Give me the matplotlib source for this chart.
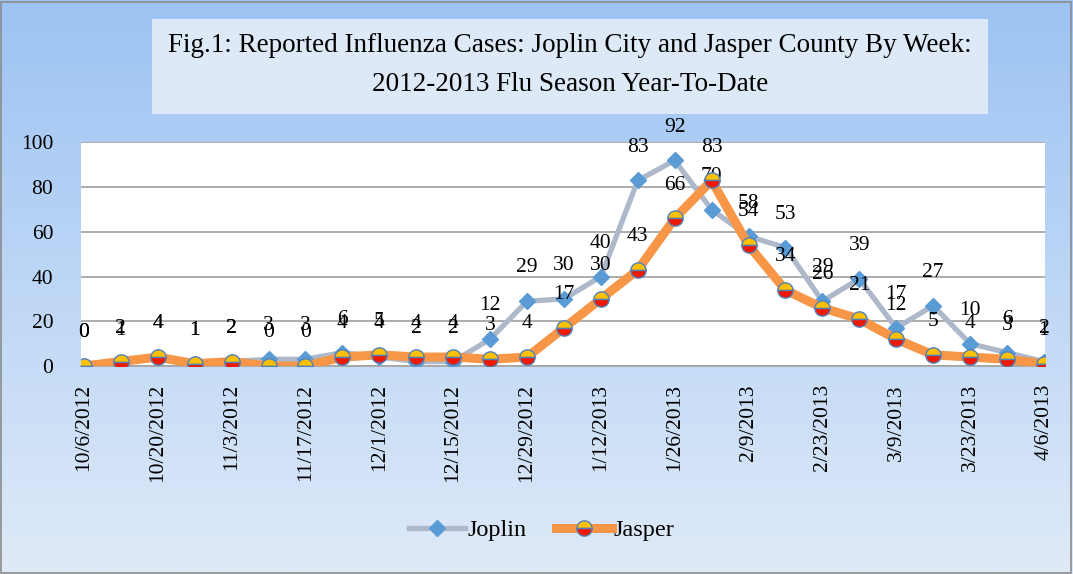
import matplotlib
matplotlib.use("Agg")
import matplotlib.pyplot as plt
import numpy as np
from matplotlib.patches import Rectangle

# weekly reported cases, 2012-2013 flu season
weeks = ["10/6/2012", "10/13/2012", "10/20/2012", "10/27/2012", "11/3/2012",
         "11/10/2012", "11/17/2012", "11/24/2012", "12/1/2012", "12/8/2012",
         "12/15/2012", "12/22/2012", "12/29/2012", "1/5/2013", "1/12/2013",
         "1/19/2013", "1/26/2013", "2/2/2013", "2/9/2013", "2/16/2013",
         "2/23/2013", "3/2/2013", "3/9/2013", "3/16/2013", "3/23/2013",
         "3/30/2013", "4/6/2013"]
joplin = [0, 1, 4, 1, 2, 3, 3, 6, 4, 2, 2, 12, 29, 30, 40, 83, 92, 70, 58, 53,
          29, 39, 17, 27, 10, 6, 2]
jasper = [0, 2, 4, 1, 2, 0, 0, 4, 5, 4, 4, 3, 4, 17, 30, 43, 66, 83, 54, 34,
          26, 21, 12, 5, 4, 3, 1]
y_ticks = [0, 20, 40, 60, 80, 100]

title = ("Fig.1: Reported Influenza Cases: Joplin City and Jasper County By Week:\n"
         "2012-2013 Flu Season Year-To-Date")

plt.rcParams["font.family"] = ["Liberation Serif", "DejaVu Serif"]

fig = plt.figure(figsize=(10.73, 5.74), dpi=100)

# gradient background for the whole chart area
bg = fig.add_axes([0, 0, 1, 1], zorder=-10)
grad = np.linspace(0, 1, 256).reshape(-1, 1)
top_c = np.array([0x9c, 0xc3, 0xf3]) / 255
bot_c = np.array([0xdf, 0xea, 0xf8]) / 255
img = top_c[None, None, :] * (1 - grad[:, :, None]) + bot_c[None, None, :] * grad[:, :, None]
bg.imshow(img, aspect="auto", extent=[0, 1, 0, 1])
bg.set_xlim(0, 1)
bg.set_ylim(0, 1)
bg.axis("off")
bg.add_patch(Rectangle((0.001, 0.002), 0.997, 0.995, fill=False,
                       edgecolor="#8c8c8c", linewidth=1.2))

# title box
bg.add_patch(Rectangle((152 / 1073, 1 - 114 / 574), (988 - 152) / 1073, 95 / 574,
                       facecolor="#dde9f6", edgecolor="none"))
fig.text((152 + 988) / 2 / 1073, 1 - 65 / 574, title, ha="center", va="center",
         fontsize=19.5, linespacing=1.75, color="black")

ax = fig.add_axes([81 / 1073, 1 - 366 / 574, (1045 - 81) / 1073, (366 - 142.5) / 574])
ax.set_facecolor("white")
x = np.arange(len(weeks))

ax.plot(x, joplin, color="#adb9ca", linewidth=3.8, marker="D", markersize=8,
        markerfacecolor="#5b9bd5", markeredgecolor="#5b9bd5", label="Joplin",
        solid_joinstyle="round", zorder=3)
ax.plot(x, jasper, color="#f79646", linewidth=6.5, marker="o", markersize=11,
        fillstyle="top", markerfacecolor="#ffc000", markerfacecoloralt="#f01800",
        markeredgecolor="#4f81bd", markeredgewidth=1.0, label="Jasper",
        solid_joinstyle="round", zorder=4)

for xi, v in zip(x, joplin):
    ax.annotate(str(v), (xi, v), xytext=(0, 24), textcoords="offset points",
                ha="center", va="center", fontsize=15.5, annotation_clip=False)
for xi, v in zip(x, jasper):
    ax.annotate(str(v), (xi, v), xytext=(0, 24), textcoords="offset points",
                ha="center", va="center", fontsize=15.5, annotation_clip=False)

ax.set_xlim(-0.08, len(weeks) - 1 + 0.03)
ax.set_ylim(0, 100)
ax.set_yticks(y_ticks)
ax.set_xticks(x[::2])
ax.set_xticklabels(weeks[::2], rotation=90, fontsize=15.5)
ax.tick_params(axis="y", labelsize=15.5, length=0, pad=20)
ax.tick_params(axis="x", length=0, pad=13)
ax.grid(axis="y", color="#a6a6a6", linewidth=1.3)
ax.set_axisbelow(True)
for s in ["top", "right", "left"]:
    ax.spines[s].set_visible(False)
ax.spines["bottom"].set_color("#a6a6a6")
ax.spines["bottom"].set_linewidth(1.3)

leg = fig.legend(loc="center", bbox_to_anchor=(0.505, 1 - 530 / 574), ncol=2,
                 frameon=False, fontsize=17.5, handlelength=2.3, columnspacing=1.2,
                 handletextpad=0.1)

fig.savefig("out.png", dpi=100)
